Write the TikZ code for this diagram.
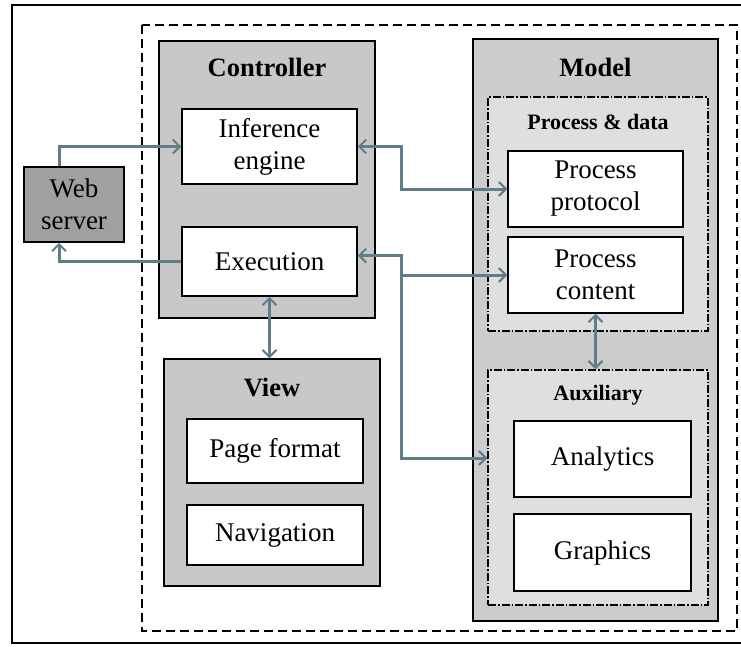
\documentclass[tikz,border=0pt]{standalone}
\usepackage{fontspec}
\setmainfont{Liberation Serif}
\usetikzlibrary{arrows.meta}

\definecolor{ctrlgray}{RGB}{200,200,200}
\definecolor{webgray}{RGB}{160,160,160}
\definecolor{modelgray}{RGB}{204,204,204}
\definecolor{subgray}{RGB}{222,224,224}
\definecolor{flowcol}{RGB}{96,125,136}

\begin{document}
\begin{tikzpicture}[x=1pt, y=-1pt,
  group/.style = {draw, line width=1.5pt, inner sep=0pt},
  subgroup/.style = {draw, fill=subgray, line width=1.4pt, inner sep=0pt,
                     dash pattern=on 8pt off 2pt on 1.5pt off 2pt},
  box/.style = {draw, fill=white, line width=1.5pt, inner sep=0pt, align=center,
                minimum width=175pt, minimum height=75pt,
                font=\fontsize{27}{32}\selectfont},
  title/.style = {font=\bfseries\fontsize{26.5}{30}\selectfont},
  subtitle/.style = {font=\bfseries\fontsize{22}{26}\selectfont},
  tip/.style = {Straight Barb[length=7pt,width=14pt,line width=2pt]},
  flow/.style = {draw=flowcol, line width=3pt, arrows={-Straight Barb[length=7pt,width=14pt,line width=2pt]}},
  flowboth/.style = {flow, arrows={Straight Barb[length=7pt,width=14pt,line width=2pt]-Straight Barb[length=7pt,width=14pt,line width=2pt]}}]
\useasboundingbox (0,0) rectangle (741,646);

% frames
\draw [line width=1.5pt] (12,5) rectangle (760,643);
\draw [line width=1.5pt, dash pattern=on 9pt off 5pt] (142,25) rectangle (737,631);

% controller
\node [group, fill=ctrlgray, minimum width=216pt, minimum height=277pt] (ctrl) at (267,179.5) {};
\node [title] (ctrlt) at (267,67) {Controller};
\node [box] (inf) at (269.5,146.5) {Inference\\engine};
\node [box, minimum height=69pt] (exe) at (269.5,261.5) {Execution};

% web server
\node [box, fill=webgray, minimum width=100pt] (web) at (74,204.5) {Web\\server};

% view
\node [group, fill=ctrlgray, minimum width=216pt, minimum height=227pt] (view) at (272,472.5) {};
\node [title] (viewt) at (272,387) {View};
\node [box, minimum width=176pt, minimum height=64pt] (page) at (275,451) {Page format};
\node [box, minimum width=176pt, minimum height=60pt] (nav) at (275,535) {Navigation};

% model
\node [group, fill=modelgray, minimum width=245pt, minimum height=582pt] (model) at (595.5,330) {};
\node [title] (modelt) at (595.5,67) {Model};
\node [subgroup, minimum width=220pt, minimum height=234pt] (pd) at (598,214) {};
\node [subtitle] (pdt) at (598,122) {Process \& data};
\node [box, minimum height=76pt] (pp) at (595.5,189) {Process\\protocol};
\node [box, minimum height=76pt] (pc) at (595.5,275) {Process\\content};
\node [subgroup, minimum width=220pt, minimum height=235pt] (aux) at (598,487.5) {};
\node [subtitle] (auxt) at (598,395) {Auxiliary};
\node [box, minimum width=177pt, minimum height=76pt] (ana) at (602.5,459) {Analytics};
\node [box, minimum width=177pt, minimum height=77pt] (gra) at (602.5,552.5) {Graphics};

% connectors
\draw [flow] ([xshift=-15pt]web.north) |- (inf.west);
\draw [flow] (exe.west) -| ([xshift=-15pt]web.south);
\draw [flowboth] (inf.east) -- ++(44,0) |- (pp.west);
\draw [flowboth] ([yshift=6pt]exe.east) -- ++(44,0) |- (pc.west);
\coordinate (split) at (401,276);
\draw [flow] (split) |- ([yshift=29.5pt]aux.west);
\draw [flowboth] (exe.south) -- (exe.south |- view.north);
\draw [flowboth] (pc.south) -- (pc.south |- aux.north);
\end{tikzpicture}
\end{document}
